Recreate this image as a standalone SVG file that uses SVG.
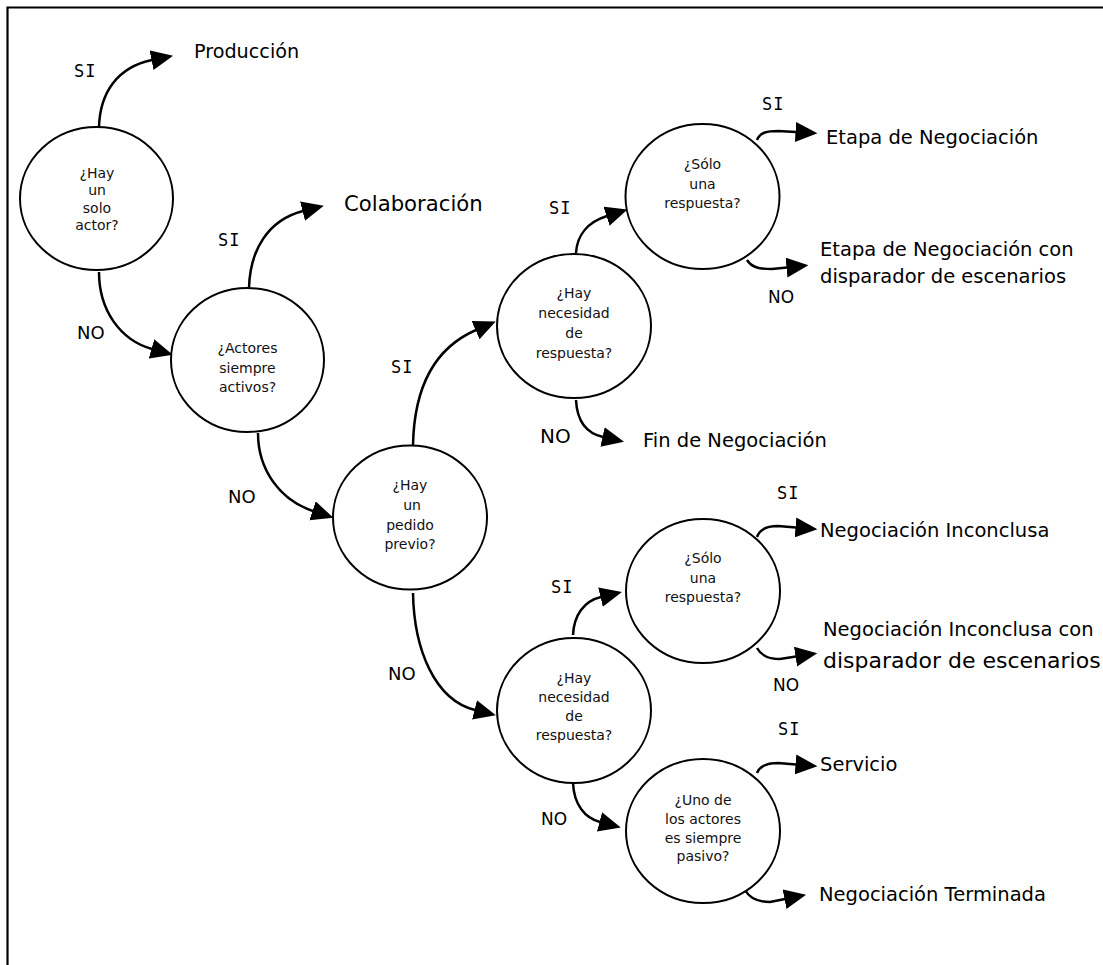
<svg xmlns="http://www.w3.org/2000/svg" width="1103" height="965" viewBox="0 0 1103 965">
<style>
.node{fill:#fff;stroke:#000;stroke-width:2}
.q{font-family:"DejaVu Sans","Liberation Sans",sans-serif;font-size:14px;text-anchor:middle;fill:#111}
.lbl{font-family:"DejaVu Sans","Liberation Sans",sans-serif;font-size:19.5px;fill:#000}
.si{font-family:"DejaVu Sans Mono","Liberation Mono",monospace;font-size:17px;letter-spacing:1px;fill:#000}
.no{font-family:"DejaVu Sans","Liberation Sans",sans-serif;font-size:17px;fill:#000}
.edge{fill:none;stroke:#000;stroke-width:2.5;marker-end:url(#ah)}
</style>
<defs>
<marker id="ah" markerUnits="userSpaceOnUse" markerWidth="23" markerHeight="21" refX="0.5" refY="10" orient="auto" viewBox="0 0 23 21">
<path d="M0,0 L22,10 L0,20 z" fill="#000"/>
</marker>
</defs>
<rect width="1103" height="965" fill="#fff"/>
<g id="frame" fill="none" stroke="#000" stroke-width="2.2">
<path d="M1103,7.5 H7.5 V965"/>
</g>
<g id="connectors">
<path class="edge" d="M99,127 C100,92 118,67 152,60"/>
<path class="edge" d="M99,272 C99,310 120,340 152,349"/>
<path class="edge" d="M249,288 C250,250 268,220 303,211"/>
<path class="edge" d="M258,433 C258,470 280,500 313,511"/>
<path class="edge" d="M413,445 C414,395 430,350 476,330"/>
<path class="edge" d="M576,253 C577,235 588,222 607,216"/>
<path class="edge" d="M576,400 C577,420 585,433 603,437"/>
<path class="edge" d="M757,140 C760,132 768,131 778,131 L796,132"/>
<path class="edge" d="M747,260 C752,268 760,269 772,269 L787,267.5"/>
<path class="edge" d="M413,593 C414,650 435,700 475,710"/>
<path class="edge" d="M573,635 C574,615 584,601 601,597"/>
<path class="edge" d="M573,783 C574,805 585,818 600,822"/>
<path class="edge" d="M757,537 C760,528 768,526 778,526 L796,527.5"/>
<path class="edge" d="M757,648 C762,657 770,659 780,659 L796,656.5"/>
<path class="edge" d="M757,773 C760,765 768,763 778,763 L796,764.5"/>
<path class="edge" d="M745,890 C750,899 758,902 770,902 L785,899"/>
</g>
<g id="n1">
<ellipse class="node" cx="96.5" cy="198.5" rx="76.5" ry="71.5"/>
<text class="q" x="97" y="178">¿Hay</text>
<text class="q" x="97" y="195">un</text>
<text class="q" x="97" y="212.5">solo</text>
<text class="q" x="97" y="230">actor?</text>
</g>
<g id="n2">
<ellipse class="node" cx="247.5" cy="360" rx="76.5" ry="72"/>
<text class="q" x="247.5" y="353">¿Actores</text>
<text class="q" x="247.5" y="373">siempre</text>
<text class="q" x="247.5" y="392">activos?</text>
</g>
<g id="n3">
<ellipse class="node" cx="410" cy="517.5" rx="77" ry="72"/>
<text class="q" x="410" y="490">¿Hay</text>
<text class="q" x="412" y="510">un</text>
<text class="q" x="410" y="529.5">pedido</text>
<text class="q" x="410" y="548.5">previo?</text>
</g>
<g id="n4">
<ellipse class="node" cx="574" cy="326" rx="77" ry="72"/>
<text class="q" x="574" y="298">¿Hay</text>
<text class="q" x="574" y="318">necesidad</text>
<text class="q" x="574" y="337.5">de</text>
<text class="q" x="574" y="357.5">respuesta?</text>
</g>
<g id="n5">
<ellipse class="node" cx="702.5" cy="196.5" rx="77" ry="72.5"/>
<text class="q" x="702.5" y="169">¿Sólo</text>
<text class="q" x="702.5" y="189">una</text>
<text class="q" x="702.5" y="208">respuesta?</text>
</g>
<g id="n6">
<ellipse class="node" cx="703" cy="591" rx="77" ry="72"/>
<text class="q" x="703" y="563">¿Sólo</text>
<text class="q" x="703" y="583">una</text>
<text class="q" x="703" y="602">respuesta?</text>
</g>
<g id="n7">
<ellipse class="node" cx="574" cy="710.5" rx="77" ry="72.5"/>
<text class="q" x="574" y="683">¿Hay</text>
<text class="q" x="574" y="702">necesidad</text>
<text class="q" x="574" y="721">de</text>
<text class="q" x="574" y="739.5">respuesta?</text>
</g>
<g id="n8">
<ellipse class="node" cx="703" cy="831" rx="77" ry="72"/>
<text class="q" x="703" y="805">¿Uno de</text>
<text class="q" x="703" y="824">los actores</text>
<text class="q" x="703" y="843">es siempre</text>
<text class="q" x="703" y="861">pasivo?</text>
</g>
<g id="outcomes">
<text class="lbl" x="194" y="58" style="font-size:19.2px">Producción</text>
<text class="lbl" x="344" y="211" style="font-size:21.2px">Colaboración</text>
<text class="lbl" x="826" y="144">Etapa de Negociación</text>
<text class="lbl" x="820" y="256">Etapa de Negociación con</text>
<text class="lbl" x="820" y="283">disparador de escenarios</text>
<text class="lbl" x="643" y="447">Fin de Negociación</text>
<text class="lbl" x="820" y="537">Negociación Inconclusa</text>
<text class="lbl" x="823" y="636">Negociación Inconclusa con</text>
<text class="lbl" x="823" y="668" style="font-size:22px">disparador de escenarios</text>
<text class="lbl" x="820" y="771">Servicio</text>
<text class="lbl" x="819" y="901">Negociación Terminada</text>
</g>
<g id="edge-labels">
<text class="si" x="74" y="77">SI</text>
<text class="si" x="218" y="246">SI</text>
<text class="si" x="391" y="373">SI</text>
<text class="si" x="549" y="214">SI</text>
<text class="si" x="762" y="110">SI</text>
<text class="si" x="551" y="593">SI</text>
<text class="si" x="777" y="499">SI</text>
<text class="si" x="778" y="735">SI</text>
<text class="no" x="77" y="339" style="font-size:18px">NO</text>
<text class="no" x="228" y="503" style="font-size:18px">NO</text>
<text class="no" x="540" y="443" style="font-size:20px">NO</text>
<text class="no" x="768" y="303">NO</text>
<text class="no" x="388" y="680" style="font-size:18px">NO</text>
<text class="no" x="773" y="691">NO</text>
<text class="no" x="541" y="825">NO</text>
</g>
</svg>
